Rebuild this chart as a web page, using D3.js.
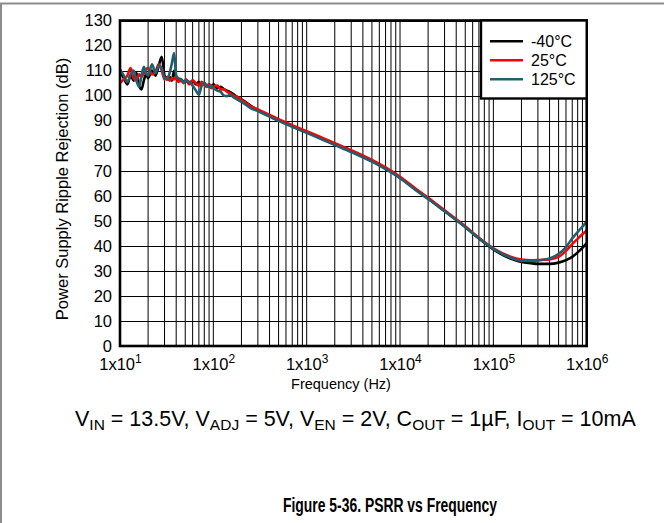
<!DOCTYPE html>
<html>
<head>
<meta charset="utf-8">
<script src="https://cdn.jsdelivr.net/npm/d3@7"></script>
<style>
  body { margin: 0; background: #fff; }
  svg { font-family: "Liberation Sans", Arial, sans-serif; }
</style>
</head>
<body>
<div class="display"></div>
<script>
// PSRR vs frequency, three temperatures

const WIDTH = 664;
const HEIGHT = 523;
const PLOT = { left: 120, right: 586.7, top: 20.5, bottom: 346 };

// Frequency points (Hz)
const freqs = [10, 11, 12, 13, 14, 15, 16, 17, 18, 19, 20, 22, 24, 26, 28, 30, 32, 34, 36, 38, 40, 42, 45, 48, 51, 55,
  60, 65, 70, 75, 80, 85, 90, 95, 100, 110, 120, 130, 140, 150, 165, 180, 200, 220, 250,
  300, 400, 500, 700, 1000, 1500, 2000, 3000, 5000, 7000, 10000, 15000, 20000, 30000, 50000, 70000,
  100000, 150000, 200000, 250000, 300000, 400000, 500000, 600000, 700000, 800000, 900000, 1000000];

// PSRR (dB) per temperature
const psrrMinus40 = [109.5, 107, 104.5, 108, 106, 109, 104, 102.5, 106, 108.5, 107, 110, 108, 112, 115.5, 108, 106.5, 107.5, 106, 110, 107, 106, 106.5, 105.5, 106, 105,
  106, 104.5, 105.5, 104, 105, 104, 104.5, 103.5, 104.5, 103, 103.5, 102.5, 102, 101.5, 100.5, 99.5, 98.5, 97.5, 96,
  94.1, 91.9, 90.2, 87.8, 85.4, 82.6, 80.6, 77.8, 73.9, 70.9, 67.2, 62.3, 58.9, 53.9, 47.5, 42.9,
  38.6, 35, 33.6, 33.1, 32.8, 32.8, 33.3, 34.3, 35.6, 37.4, 39.2, 41.1];
const psrr25 = [105, 106.5, 108, 111, 107, 106, 108.5, 107.5, 109, 110.5, 111, 108.5, 109.5, 112.5, 110, 106.5, 107.5, 106, 107, 106.5, 107.5, 105.5, 106, 105, 106.5, 104.5,
  106, 105, 104, 105.5, 104.5, 103.5, 104.5, 103, 103.5, 104, 102.5, 102.5, 101.5, 101, 100, 99.5, 98.3, 97.3, 95.8,
  94.5, 92.3, 90.6, 88.2, 85.8, 83, 81, 78.2, 74.3, 71.3, 67.6, 62.6, 59.2, 54.2, 47.8, 43.2,
  39, 35.8, 34.5, 34.2, 34.3, 34.6, 35.6, 38, 40.7, 42.8, 44.6, 46.1];
const psrr125 = [110.5, 108, 105.5, 108.5, 110, 106, 103.5, 108, 111.5, 109, 108, 112.5, 109, 112, 111, 107, 106.5, 109, 113, 117, 108, 107, 106.5, 105.5, 106, 105.5,
  104, 102, 100.4, 104, 105, 104, 103.5, 104, 103, 102, 101.5, 100, 99.8, 100.3, 99.3, 98.5, 97.5, 96.5, 95,
  93.8, 91.6, 89.9, 87.5, 85.1, 82.3, 80.3, 77.5, 73.6, 70.6, 67, 62, 58.7, 53.8, 47.5, 43,
  38.8, 35.4, 34.1, 34, 34.2, 35, 36.8, 39.5, 43, 45.5, 47.7, 49.7];

const seriesNames = ['-40°C', '25°C', '125°C'];
const seriesColors = ['#000000', '#ff0000', '#215e6e'];

const yTicks = d3.range(0, 131, 10);
const decades = [10, 100, 1000, 10000, 100000, 1000000];

const svg = d3.select('.display')
  .append('svg')
  .attr('width', WIDTH)
  .attr('height', HEIGHT);

// outer frame edges
svg.append('line').attr('x1', 0).attr('x2', WIDTH).attr('y1', 3.5).attr('y2', 3.5)
  .attr('stroke', '#8c8c8c').attr('stroke-width', 2);
svg.append('line').attr('x1', 1).attr('x2', 1).attr('y1', 3).attr('y2', HEIGHT)
  .attr('stroke', '#8c8c8c').attr('stroke-width', 2);

const x = d3.scaleLog().domain([10, 1e6]).range([PLOT.left, PLOT.right]);
const y = d3.scaleLinear().domain([0, 130]).range([PLOT.bottom, PLOT.top]);

// grid
const grid = svg.append('g');
const minorFreqs = [];
decades.slice(0, -1).forEach(d => { for (let k = 2; k <= 9; k++) minorFreqs.push(d * k); });
grid.selectAll('.vgrid')
  .data(decades.concat(minorFreqs))
  .enter()
  .append('line')
  .attr('class', 'vgrid')
  .attr('x1', d => x(d)).attr('x2', d => x(d))
  .attr('y1', PLOT.top).attr('y2', PLOT.bottom)
  .attr('stroke', '#000').attr('stroke-width', 1);
grid.selectAll('.hgrid')
  .data(yTicks)
  .enter()
  .append('line')
  .attr('class', 'hgrid')
  .attr('x1', PLOT.left).attr('x2', PLOT.right)
  .attr('y1', d => Math.round(y(d)) + 0.5).attr('y2', d => Math.round(y(d)) + 0.5)
  .attr('stroke', '#000').attr('stroke-width', 1);

// curves
const allSeries = [psrrMinus40, psrr25, psrr125];
const line = d3.line()
  .x(d => x(d[0]))
  .y(d => y(d[1]))
  .curve(d3.curveMonotoneX);

svg.append('clipPath').attr('id', 'plot-clip')
  .append('rect')
  .attr('x', PLOT.left).attr('y', PLOT.top)
  .attr('width', PLOT.right - PLOT.left).attr('height', PLOT.bottom - PLOT.top);

svg.append('g')
  .attr('clip-path', 'url(#plot-clip)')
  .selectAll('path')
  .data(allSeries)
  .enter()
  .append('path')
  .attr('d', vals => line(vals.map((v, i) => [freqs[i], v])))
  .attr('fill', 'none')
  .attr('stroke', (d, i) => seriesColors[i])
  .attr('stroke-width', 2.6)
  .attr('stroke-linejoin', 'round');

// plot border
svg.append('rect')
  .attr('x', PLOT.left).attr('y', PLOT.top)
  .attr('width', PLOT.right - PLOT.left).attr('height', PLOT.bottom - PLOT.top)
  .attr('fill', 'none').attr('stroke', '#000').attr('stroke-width', 2.6);

// y axis
const yAxis = d3.axisLeft(y).tickValues(yTicks).tickSize(0).tickPadding(7);
const yg = svg.append('g').attr('transform', `translate(${PLOT.left - 1},0)`).call(yAxis);
yg.select('.domain').remove();
yg.selectAll('text').attr('font-size', 16.5).attr('fill', '#000')
  .attr('font-family', '"Liberation Sans", Arial, sans-serif');

// x axis, labels 1x10^n
const xAxis = d3.axisBottom(x).tickValues(decades).tickSize(0).tickPadding(12).tickFormat('');
const xg = svg.append('g').attr('transform', `translate(0,${PLOT.bottom})`).call(xAxis);
xg.select('.domain').remove();
xg.selectAll('.tick text').each(function(d) {
  const t = d3.select(this)
    .attr('font-size', 16.5)
    .attr('fill', '#000')
    .attr('font-family', '"Liberation Sans", Arial, sans-serif');
  t.append('tspan').text('1x10');
  t.append('tspan').attr('font-size', 12).attr('dy', -7).text(Math.round(Math.log10(d)));
});

// axis titles
svg.append('text')
  .attr('x', 341).attr('y', 389)
  .attr('text-anchor', 'middle')
  .attr('font-size', 14.5)
  .text('Frequency (Hz)');
svg.append('text')
  .attr('transform', 'translate(68,189) rotate(-90)')
  .attr('text-anchor', 'middle')
  .attr('font-size', 16.5)
  .text('Power Supply Ripple Rejection (dB)');

// legend
const legend = svg.append('g');
legend.append('rect')
  .attr('x', 481).attr('y', 20.5)
  .attr('width', 105.7).attr('height', 78)
  .attr('fill', '#fff').attr('stroke', '#000').attr('stroke-width', 2.4);
seriesNames.forEach((name, i) => {
  const ly = 41.3 + i * 19;
  legend.append('line')
    .attr('x1', 490).attr('x2', 523).attr('y1', ly).attr('y2', ly)
    .attr('stroke', seriesColors[i]).attr('stroke-width', 2.6);
  legend.append('text')
    .attr('x', 531).attr('y', ly + 5.8)
    .attr('font-size', 16)
    .text(name);
});

// test conditions
const cond = svg.append('text')
  .attr('x', 75).attr('y', 426)
  .attr('font-size', 21.5);
const condParts = [
  ['V', 'IN', ' = 13.5V, '], ['V', 'ADJ', ' = 5V, '], ['V', 'EN', ' = 2V, '],
  ['C', 'OUT', ' = 1µF, '], ['I', 'OUT', ' = 10mA']
];
condParts.forEach(p => {
  cond.append('tspan').text(p[0]);
  cond.append('tspan').attr('font-size', 15.5).attr('dy', 4).text(p[1]);
  cond.append('tspan').attr('dy', -4).text(p[2]);
});

// caption
svg.append('text')
  .attr('x', 283).attr('y', 512)
  .attr('font-size', 19.5)
  .attr('font-weight', 'bold')
  .attr('font-family', '"Liberation Sans Narrow", "Liberation Sans", Arial, sans-serif')
  .attr('textLength', 214)
  .attr('lengthAdjust', 'spacingAndGlyphs')
  .text('Figure 5-36. PSRR vs Frequency');
</script>
</body>
</html>
